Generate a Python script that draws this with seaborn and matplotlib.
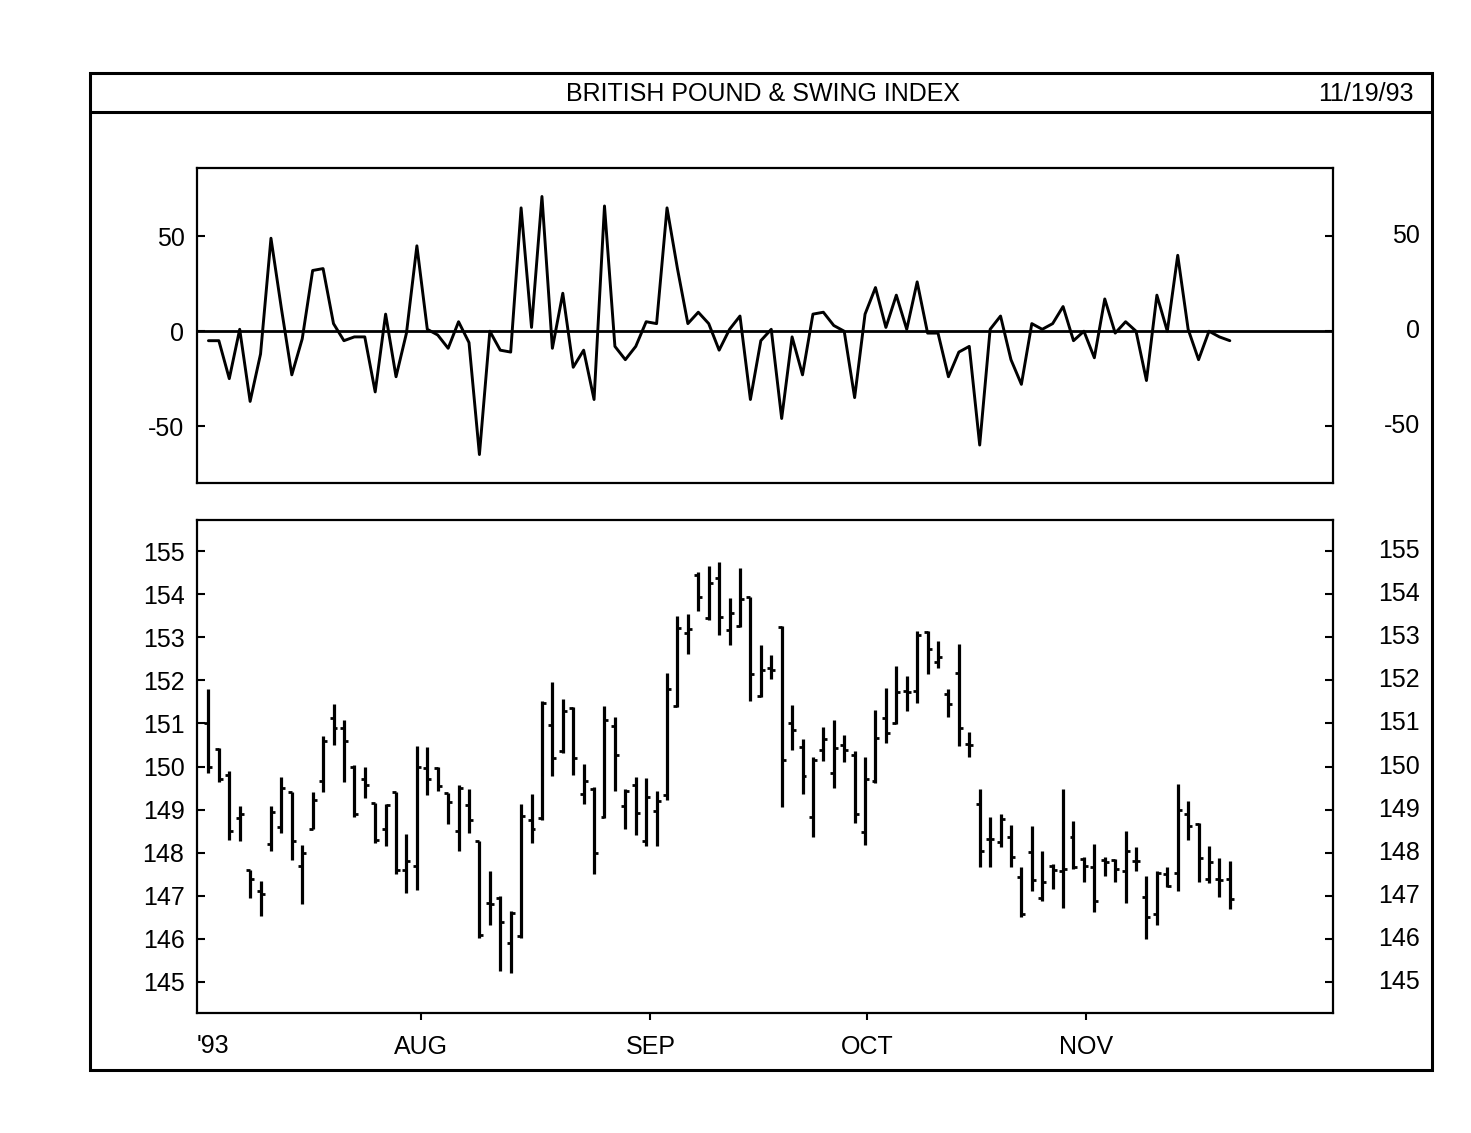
import matplotlib
matplotlib.use("Agg")
import matplotlib.pyplot as plt
import numpy as np
import pandas as pd
import seaborn as sns
from matplotlib.patches import Rectangle
from matplotlib.lines import Line2D

# swing index, one value per trading day (Jul 1 .. Nov 19, 1993)
swing = [-5, -5, -25, 1, -37, -12, 49, 12, -23, -4,
         32, 33, 4, -5, -3, -3, -32, 9, -24, -1,
         45, 1, -2, -9, 5, -6, -65, 0, -10, -11,
         65, 2, 71, -9, 20, -19, -10, -36, 66, -8,
         -15, -8, 5, 4, 65, 33, 4, 10, 4, -10,
         1, 8, -36, -5, 1, -46, -3, -23, 9, 10,
         3, 0, -35, 9, 23, 2, 19, 1, 26, -1,
         -1, -24, -11, -8, -60, 1, 8, -15, -28, 4,
         1, 4, 13, -5, 0, -14, 17, -1, 5, 0,
         -26, 19, 0, 40, 1, -15, 0, -3, -5]

opens = [151.0, 150.4, 149.8, 148.8, 147.6, 147.1, 148.2, 148.6, 149.4, 147.7,
         148.56, 149.66, 151.13, 150.9, 150.0, 149.7, 149.15, 148.54, 149.4, 147.6,
         147.7, 149.97, 149.97, 149.38, 148.5, 149.1, 148.27, 146.83, 146.95, 145.9,
         146.06, 148.77, 148.81, 150.96, 150.36, 151.36, 149.37, 149.47, 148.82, 150.94,
         149.08, 149.58, 148.27, 148.96, 149.35, 151.4, 153.1, 154.44, 153.44, 154.37,
         153.16, 153.26, 153.93, 151.63, 152.28, 153.24, 151.01, 150.45, 148.82, 150.39,
         149.85, 150.51, 150.26, 148.48, 149.66, 151.13, 151.01, 151.75, 151.75, 153.13,
         152.42, 151.68, 152.18, 150.52, 149.13, 148.32, 148.26, 148.36, 147.44, 148.01,
         146.96, 147.7, 147.58, 148.36, 147.85, 147.66, 147.82, 147.83, 147.58, 147.8,
         146.98, 146.58, 147.5, 147.54, 148.9, 148.67, 147.4, 147.38, 147.38]
highs = [151.8, 150.43, 149.9, 149.08, 147.6, 147.35, 149.08, 149.75, 149.41, 148.19,
         149.41, 150.7, 151.44, 151.09, 150.03, 149.98, 149.16, 149.13, 149.4, 148.44,
         150.47, 150.45, 149.98, 149.39, 149.58, 149.47, 148.27, 147.57, 146.99, 146.64,
         149.12, 149.37, 151.52, 151.97, 151.56, 151.38, 150.05, 149.52, 151.4, 151.15,
         149.47, 149.75, 149.74, 149.43, 152.17, 153.49, 153.53, 154.52, 154.65, 154.75,
         153.9, 154.6, 153.93, 152.83, 152.59, 153.26, 151.42, 150.63, 150.22, 150.91,
         151.09, 150.74, 150.36, 150.22, 151.32, 151.83, 152.33, 152.1, 153.14, 153.14,
         152.91, 151.8, 152.84, 150.79, 149.48, 148.84, 148.9, 148.65, 147.68, 148.63,
         148.05, 147.74, 149.48, 148.74, 147.89, 148.2, 147.89, 147.85, 148.5, 148.14,
         147.47, 147.58, 147.66, 149.59, 149.2, 148.68, 148.16, 147.88, 147.8]
lows = [149.85, 149.64, 148.3, 148.27, 146.95, 146.52, 148.03, 148.46, 147.84, 146.81,
        148.54, 149.4, 150.51, 149.64, 148.82, 149.27, 148.23, 148.15, 147.51, 147.07,
        147.14, 149.33, 149.43, 148.67, 148.03, 148.46, 146.02, 146.33, 145.25, 145.21,
        146.02, 148.23, 148.77, 149.78, 150.32, 149.81, 149.13, 147.51, 148.81, 149.44,
        148.54, 148.41, 148.15, 148.15, 149.23, 151.38, 152.62, 153.62, 153.39, 153.05,
        152.83, 153.24, 151.53, 151.61, 152.02, 149.06, 150.39, 149.37, 148.36, 150.12,
        149.5, 150.11, 148.69, 148.17, 149.62, 150.55, 150.98, 151.28, 151.48, 152.14,
        152.29, 151.16, 150.48, 150.21, 147.68, 147.66, 148.14, 147.66, 146.5, 147.1,
        146.89, 147.16, 146.72, 147.62, 147.31, 146.62, 147.47, 147.33, 146.83, 147.58,
        146.0, 146.33, 147.2, 147.12, 148.29, 147.31, 147.29, 146.98, 146.69]
closes = [150.0, 149.7, 148.5, 148.9, 147.4, 147.04, 148.95, 149.5, 148.27, 148.0,
          149.23, 150.6, 150.9, 150.6, 148.9, 149.58, 148.3, 149.1, 147.6, 147.8,
          150.0, 149.7, 149.54, 149.18, 149.5, 148.77, 146.1, 146.8, 146.4, 146.6,
          148.85, 148.54, 151.48, 150.19, 151.28, 150.2, 149.66, 148.0, 151.09, 150.26,
          149.43, 148.92, 149.29, 149.2, 151.79, 153.22, 153.18, 153.93, 154.26, 153.47,
          153.57, 153.88, 152.14, 152.25, 152.25, 150.14, 150.84, 149.78, 150.14, 150.63,
          150.43, 150.39, 148.89, 149.7, 150.67, 150.78, 151.73, 151.73, 153.05, 152.72,
          152.55, 151.45, 150.89, 150.5, 148.05, 148.32, 148.78, 147.89, 146.58, 147.37,
          147.31, 147.6, 147.62, 147.66, 147.7, 146.89, 147.78, 147.62, 148.05, 147.8,
          146.5, 147.54, 147.23, 149.0, 148.63, 147.88, 147.78, 147.37, 146.93]

month_labels = ["AUG", "SEP", "OCT", "NOV"]
month_pos = [20.4, 42.4, 63.2, 84.2]
swing_ticks = [-50, 0, 50]
price_ticks = list(range(145, 156))

FONT = ["Liberation Sans", "DejaVu Sans"]
FS = 18

sns.set_theme(style="white")
plt.rcParams.update({
    "font.family": FONT,
    "text.color": "black",
    "xtick.color": "black",
    "ytick.color": "black",
    "xtick.labelcolor": "black",
    "ytick.labelcolor": "black",
    "axes.edgecolor": "black",
    "axes.linewidth": 1.6,
    "axes.unicode_minus": False,
    "xtick.direction": "in",
    "ytick.direction": "in",
})

df = pd.DataFrame({"day": np.arange(len(swing)), "swing": swing,
                   "open": opens, "high": highs, "low": lows, "close": closes})

fig = plt.figure(figsize=(14.71, 11.33), dpi=100)
ax1 = fig.add_axes([0.1339, 0.5737, 0.7723, 0.2780])
ax2 = fig.add_axes([0.1339, 0.1059, 0.7723, 0.4351])

# swing index
sns.lineplot(data=df, x="day", y="swing", ax=ax1, color="black", lw=2.1)
ax1.axhline(0, color="black", lw=2.0)
ax1.set_ylim(-80, 86)
ax1.set_yticks(swing_ticks)

# OHLC bars
ax2.vlines(df["day"], df["low"], df["high"], color="black", lw=2.3)
ax2.hlines(df["open"], df["day"] - 0.38, df["day"], color="black", lw=2.0)
ax2.hlines(df["close"], df["day"], df["day"] + 0.38, color="black", lw=2.0)
ax2.set_ylim(144.28, 155.72)
ax2.set_yticks(price_ticks)

# right-hand labels sit right-aligned well outside the frame
right_x = (1420 - 197) / 1136
for ax, ticks in ((ax1, swing_ticks), (ax2, price_ticks)):
    ax.set_xlim(-1.1, 107.9)
    ax.set_xlabel("")
    ax.set_ylabel("")
    ax.tick_params(axis="y", left=True, right=True, labelleft=True, labelright=False,
                   length=6, width=1.5, labelsize=FS, pad=9)
    for t in ticks:
        ax.text(right_x, t, str(t), transform=ax.get_yaxis_transform(),
                ha="right", va="center", fontsize=FS, color="black")
    for s in ax.spines.values():
        s.set_linewidth(1.6)

ax1.set_xticks([])
ax2.set_xticks(month_pos)
ax2.set_xticklabels(month_labels)
ax2.tick_params(axis="x", direction="out", bottom=True, length=5, width=1.5,
                labelsize=FS, pad=11)
ax2.text(0.0, -0.066, "'93", transform=ax2.transAxes,
         ha="left", va="center", fontsize=FS, color="black")

# outer frame and header
fig.add_artist(Rectangle((0.0612, 0.0556), 0.9123, 0.88, transform=fig.transFigure,
                         fill=False, edgecolor="black", lw=2.2))
fig.add_artist(Line2D([0.0612, 0.9735], [0.9011, 0.9011], transform=fig.transFigure,
                      color="black", lw=2.2))
fig.text(0.519, 0.917, "BRITISH POUND & SWING INDEX", ha="center", va="center",
         fontsize=FS)
fig.text(0.961, 0.917, "11/19/93", ha="right", va="center", fontsize=FS)

fig.savefig("out.png", dpi=100, facecolor="white")
